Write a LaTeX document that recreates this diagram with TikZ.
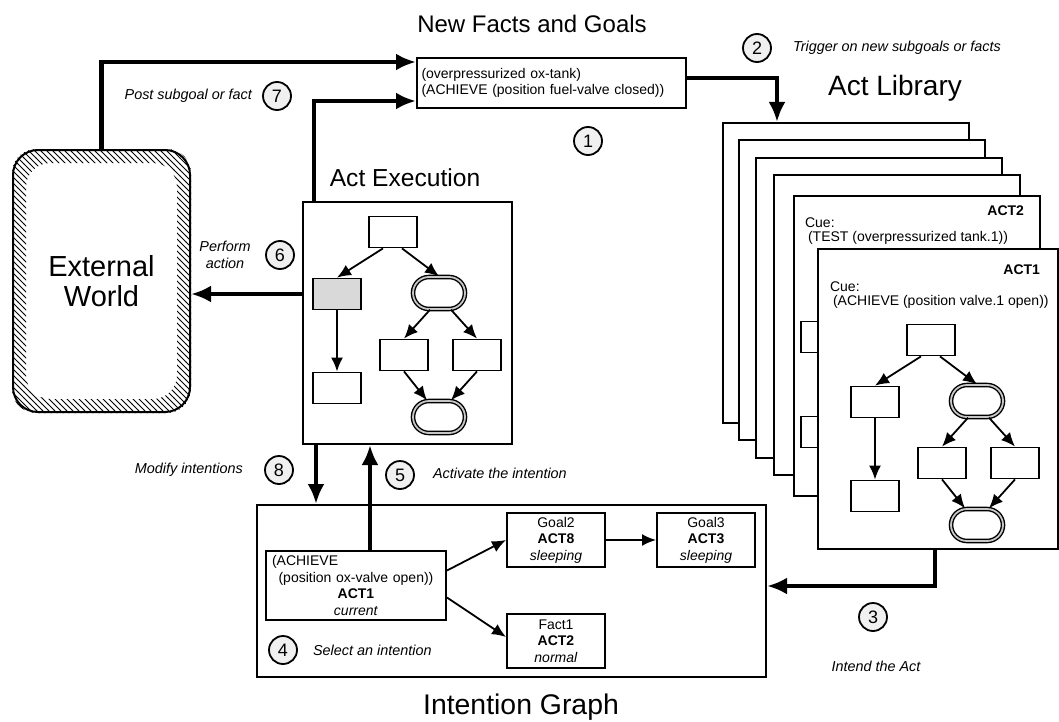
\documentclass[tikz,border=0pt]{standalone}
\usepackage{fontspec}
\setmainfont{Liberation Sans}
\usepackage{tikz}
\usetikzlibrary{arrows.meta}
\usetikzlibrary{shapes.misc}
\usetikzlibrary{patterns}
\newcommand{\fsz}[1]{\fontsize{#1}{1.2\dimexpr #1pt\relax}\selectfont}
\newcommand{\actgraph}[2]{%
	\node[box] (#1top) at (393,232) {};
	\node[box, fill=#2] (#1l) at (337,294) {};
	\node[oval] (#1o) at (439,293) {};
	\node[box] (#1ll) at (337,388) {};
	\node[box] (#1ml) at (404,355) {};
	\node[box] (#1mr) at (477,355) {};
	\node[oval] (#1b) at (439,417) {};
	\draw[thinarrow] ([xshift=-5pt]#1top.south) -- (#1l.north);
	\draw[thinarrow] ([xshift=4.5pt]#1top.south) -- (#1o.north);
	\draw[thinarrow] ([xshift=-4.5pt]#1o.south) -- (#1ml.north);
	\draw[thinarrow] ([xshift=6pt]#1o.south) -- (#1mr.north);
	\draw[thinarrow] (#1ml.south) -- ([xshift=-6pt]#1b.north);
	\draw[thinarrow] (#1mr.south) -- ([xshift=6pt]#1b.north);
	\draw[thinarrow] (#1l.south) -- (#1ll.north);
}

\begin{document}
\begin{tikzpicture}
	[x=0.5pt, y=-0.5pt,
	box/.style={draw, line width=0.9pt, fill=white, minimum width=24pt, minimum height=15.5pt, inner sep=0pt},
	oval/.style={rounded rectangle, draw, line width=0.7pt, double=gray!45, double distance=0.9pt, minimum width=26pt, minimum height=16pt, inner sep=0pt},
	card/.style={draw, fill=white, line width=1pt, anchor=north west, minimum width=123pt, minimum height=150pt, inner sep=0pt},
	num/.style={circle, draw, line width=0.9pt, fill=gray!12, minimum size=14pt, inner sep=0pt, font=\fsz{9}},
	bigarrow/.style={line width=2.2pt, -{Latex[length=10pt,width=8.5pt]}},
	thinarrow/.style={line width=0.9pt, -{Latex[length=7pt,width=6pt]}},
	lbl/.style={font=\itshape\fsz{7.2}},
	txt/.style={font=\fsz{7}},
	ibox/.style={draw, line width=1pt, align=center, inner sep=0.5pt, font=\fontsize{7}{8.3}\selectfont}]
	\useasboundingbox (0,0) rectangle (1059,722);

	\node[draw, line width=1pt, rounded corners=12.5pt, minimum width=88.5pt, minimum height=131pt, align=center, font=\fontsize{14.5}{15}\selectfont] (ext) at (101.5,281) {External\\World};
	\fill[pattern=north west lines, even odd rule, rounded corners=12pt] (ext.north west) rectangle (ext.south east)
		([shift={(7pt,-7pt)}]ext.north west) rectangle ([shift={(-7pt,7pt)}]ext.south east);

	\node[font=\fsz{12}] (tfacts) at (532,24) {New Facts and Goals};
	\node[draw, line width=1pt, minimum width=134.5pt, minimum height=25pt, text width=130pt, align=left, inner sep=2pt, font=\fontsize{7}{8}\selectfont] (facts) at (551.5,83)
		{(overpressurized ox-tank)\\(ACHIEVE (position fuel-valve closed))};

	\node[font=\fsz{14}] (tlib) at (895,88) {Act Library};
	\node[card] (lib1) at (722,122) {};
	\node[card] (lib2) at (738,139) {};
	\node[card] (lib3) at (755,157) {};
	\node[card] (lib4) at (773,174) {};
	\node[card] (lib5) at (793,195) {};
	\node[anchor=east, font=\bfseries\fsz{7}] (act2) at (1031,211) {ACT2};
	\node[anchor=west, txt] (cue2) at (798,223) {Cue:};
	\node[anchor=west, txt] (test2) at (801,238) {(TEST (overpressurized tank.1))};
	\node[box] (hid1) at (825,337) {};
	\node[box] (hid2) at (825,432) {};
	\node[card, minimum width=120pt] (lib6) at (817,248) {};
	\node[anchor=east, font=\bfseries\fsz{7}] (act1) at (1047,270) {ACT1};
	\node[anchor=west, txt] (cue1) at (823,287) {Cue:};
	\node[anchor=west, txt] (ach1) at (826,302) {(ACHIEVE (position valve.1 open))};
	\begin{scope}[shift={(538,108)}]
		\actgraph{a}{white}
	\end{scope}

	\node[font=\fsz{12.3}] (texec) at (405,178) {Act Execution};
	\node[draw, line width=1pt, minimum width=104.5pt, minimum height=121pt] (exec) at (407.5,323) {};
	\actgraph{x}{gray!30}

	\node[draw, line width=1pt, minimum width=254.5pt, minimum height=86pt] (ig) at (511.5,591) {};
	\node[font=\fsz{14.2}] (tig) at (521,707) {Intention Graph};
	\node[ibox, minimum width=90pt, minimum height=34.5pt, text width=88pt] (ach) at (356,585.5)
		{\makebox[88pt][l]{\hspace*{2pt}(ACHIEVE}\\(position ox-valve open))\\\textbf{ACT1}\\\textit{current}};
	\node[ibox, minimum width=49pt, minimum height=27pt] (goal2) at (556,540) {Goal2\\\textbf{ACT8}\\\textit{sleeping}};
	\node[ibox, minimum width=49pt, minimum height=27pt] (fact1) at (556,641) {Fact1\\\textbf{ACT2}\\\textit{normal}};
	\node[ibox, minimum width=49pt, minimum height=27pt] (goal3) at (706,540) {Goal3\\\textbf{ACT3}\\\textit{sleeping}};
	\draw[thinarrow] ([yshift=7.5pt]ach.east) -- (goal2.west);
	\draw[thinarrow] ([yshift=-6pt]ach.east) -- ([yshift=2pt]fact1.west);
	\draw[thinarrow] (goal2.east) -- (goal3.west);

	\draw[bigarrow] (ext.north) |- ([yshift=-2.5pt]facts.north west);
	\draw[bigarrow] ([xshift=6pt]exec.north west) |- ([yshift=4pt]facts.south west);
	\draw[bigarrow] ([yshift=2.5pt]facts.east) -| ([xshift=27.5pt]lib1.north west);
	\draw[bigarrow] (exec.west |- xl) -- (ext.east |- xl);
	\draw[bigarrow] ([xshift=7pt]exec.south west) -- ([xshift=7pt]exec.south west |- ig.north);
	\draw[bigarrow] ([xshift=7pt]ach.north) -- ([xshift=7pt]ach.north |- exec.south);
	\draw[bigarrow] ([xshift=59pt]lib6.south west) |- ([yshift=2.5pt]ig.east);

	\node[num] (n1) at (588,141) {1};
	\node[num] (n2) at (757,48) {2};
	\node[num] (n3) at (873,617) {3};
	\node[num] (n4) at (283,650) {4};
	\node[num] (n5) at (400,475) {5};
	\node[num] (n6) at (280,255) {6};
	\node[num] (n7) at (277,96) {7};
	\node[num] (n8) at (279,470) {8};

	\node[lbl, anchor=east] (l7) at (259,96) {Post subgoal or fact};
	\node[lbl, anchor=west] (l2) at (786,48) {Trigger on new subgoals or facts};
	\node[lbl, align=center] (l6) at (225,255) {Perform\\action};
	\node[lbl, anchor=east] (l8) at (250,470) {Modify intentions};
	\node[lbl, anchor=west] (l5) at (426,473) {Activate the intention};
	\node[lbl, anchor=west] (l4) at (306,650) {Select an intention};
	\node[lbl] (l3) at (876,666) {Intend the Act};
\end{tikzpicture}
\end{document}
